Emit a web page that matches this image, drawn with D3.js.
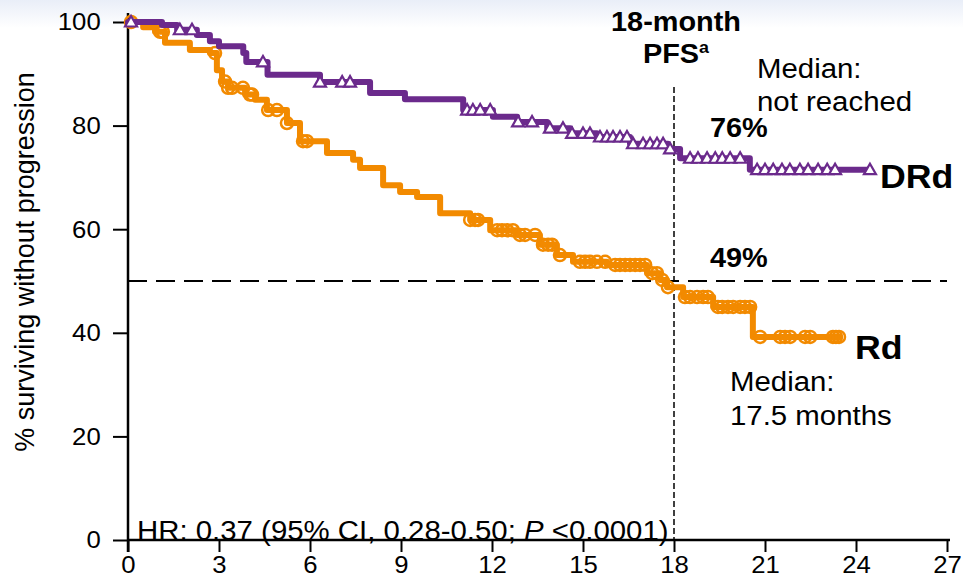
<!DOCTYPE html>
<html>
<head>
<meta charset="utf-8">
<script src="https://cdn.jsdelivr.net/npm/d3@7"></script>
<style>
  html, body { margin: 0; padding: 0; background: #fff; }
  svg { display: block; font-family: "Liberation Sans", Arial, sans-serif; }
</style>
</head>
<body>
<script>
// DRd arm: step times (months) and % progression-free
var drdTime = [0, 1.12, 1.62, 2.27, 2.7, 3.0, 3.8, 3.9, 4.6, 6.33, 7.98, 9.13, 11.05, 12.03, 12.83, 13.82, 14.58, 15.46, 16.55, 17.8, 18.2, 20.5];
var drdSurv = [100, 99.4, 98.5, 97.5, 96.3, 95.3, 94, 92.3, 89.8, 88.4, 86.3, 85.1, 83.0, 81.7, 80.7, 79.5, 78.5, 77.8, 76.5, 75.5, 73.7, 71.5];
var drdEnd = 24.46;
var drdCensor = [0.1, 1.71, 2.11, 4.45, 6.33, 7.06, 7.32, 11.18, 11.37, 11.61, 11.94, 12.86, 13.32, 13.91, 14.34, 14.64,
  15.0, 15.23, 15.56, 15.79, 15.99, 16.22, 16.45, 16.65, 16.98, 17.21, 17.44, 17.64, 17.87, 18.53, 18.79, 19.09, 19.36,
  19.59, 19.85, 20.18, 20.74, 21.0, 21.27, 21.56, 21.82, 22.15, 22.42, 22.75, 23.05, 23.31, 24.46];

// Rd arm
var rdTime = [0, 0.5, 0.89, 1.22, 2.04, 2.7, 2.93, 3.1, 3.3, 3.86, 4.19, 4.58, 5.24, 5.67, 6.56, 7.42, 7.65, 8.41, 8.97, 9.53,
  10.29, 11.28, 11.94, 12.83, 13.58, 14.14, 14.67, 15.79, 17.11, 17.54, 17.77, 18.3, 19.29, 20.6];
var rdSurv = [100, 99, 98.1, 96, 94.6, 94, 90.7, 88.5, 87.3, 86, 85, 83, 80.5, 77, 74.7, 73.4, 71.8, 68.5, 67.2, 66.2,
  63.1, 61.8, 59.8, 58.9, 57, 55, 53.7, 53.1, 51.5, 50.2, 48.8, 46.9, 45.0, 39.2];
var rdEnd = 23.47;
var rdCensor = [0.1, 1.06, 1.15, 2.87, 3.2, 3.3, 3.43, 3.79, 4.02, 4.09, 4.62, 4.91, 5.24, 5.77, 5.9, 11.28, 11.44, 11.54,
  12.17, 12.33, 12.5, 12.69, 12.92, 13.09, 13.42, 13.68, 13.85, 13.98, 14.24, 14.9, 15.07, 15.23, 15.46, 15.73, 16.06,
  16.22, 16.39, 16.55, 16.72, 16.88, 17.05, 17.28, 17.44, 17.61, 17.8, 18.36, 18.53, 18.76, 18.96, 19.12, 19.45, 19.59,
  19.78, 19.95, 20.18, 20.34, 20.51, 20.84, 21.5, 21.66, 21.83, 22.32, 22.49, 23.24, 23.34, 23.44];

var xTicks = [0, 3, 6, 9, 12, 15, 18, 21, 24, 27];
var yTicks = [0, 20, 40, 60, 80, 100];

var purple = "#6b2a8c", orange = "#f28a00";
var SX = 1.05; // source picture is slightly stretched sideways

var W = 963, H = 583;
var svg = d3.select("body").append("svg").attr("width", W).attr("height", H);

// faint slide gradient at top
var grad = svg.append("defs").append("linearGradient").attr("id", "topg")
  .attr("x1", 0).attr("y1", 0).attr("x2", 0).attr("y2", 1);
grad.append("stop").attr("offset", "0%").attr("stop-color", "#e9eef8");
grad.append("stop").attr("offset", "100%").attr("stop-color", "#ffffff");
svg.append("rect").attr("width", W).attr("height", 28).attr("fill", "url(#topg)");

var x = d3.scaleLinear().domain([0, 27]).range([128, 947]);
var y = d3.scaleLinear().domain([0, 100]).range([540, 22]);

// reference lines
svg.append("line").attr("x1", x(0)).attr("x2", x(27)).attr("y1", y(50)).attr("y2", y(50))
  .attr("stroke", "#000").attr("stroke-width", 2).attr("stroke-dasharray", "19,9");
svg.append("line").attr("x1", x(18)).attr("x2", x(18)).attr("y1", 87).attr("y2", y(0))
  .attr("stroke", "#000").attr("stroke-width", 1.5).attr("stroke-dasharray", "6,3");

// axes
var xAxis = svg.append("g").attr("transform", "translate(0," + y(0) + ")")
  .call(d3.axisBottom(x).tickValues(xTicks).tickSize(12).tickPadding(4).tickSizeOuter(0));
var yAxis = svg.append("g").attr("transform", "translate(" + x(0) + ",0)")
  .call(d3.axisLeft(y).tickValues(yTicks).tickSize(15).tickPadding(11).tickSizeOuter(0));
[xAxis, yAxis].forEach(function(a) {
  a.select(".domain").remove();
  a.selectAll(".tick line").attr("stroke", "#000").attr("stroke-width", 2);
  a.selectAll("text").attr("fill", "#000").style("font-size", "24.5px")
    .style("font-family", "'Liberation Sans', Arial, sans-serif")
    .attr("transform", "scale(" + SX + ",1)");
});
svg.append("line").attr("x1", x(0)).attr("x2", 950).attr("y1", y(0)).attr("y2", y(0))
  .attr("stroke", "#000").attr("stroke-width", 2.5);
svg.append("line").attr("x1", x(0)).attr("x2", x(0)).attr("y1", 13).attr("y2", y(0) + 12)
  .attr("stroke", "#000").attr("stroke-width", 2.5);

function stepAt(times, surv, t) {
  var i = d3.bisectRight(times, t) - 1;
  return surv[Math.max(0, i)];
}

function drawArm(times, surv, end, censor, color, shape) {
  var pts = times.map(function(t, i) { return [t, surv[i]]; });
  pts.push([end, surv[surv.length - 1]]);
  var line = d3.line().x(function(d) { return x(d[0]); }).y(function(d) { return y(d[1]); })
    .curve(d3.curveStepAfter);
  svg.append("path").attr("d", line(pts)).attr("fill", "none").attr("stroke", color)
    .attr("stroke-width", 6).attr("stroke-linejoin", "round").attr("stroke-linecap", "round");
  var g = svg.append("g");
  censor.forEach(function(t) {
    var cx = x(t), cy = y(stepAt(times, surv, t));
    if (shape === "tri") {
      g.append("path").attr("d", "M-6,4.5L6,4.5L0,-6Z").attr("transform", "translate(" + cx + "," + cy + ")")
        .attr("fill", "#fff").attr("stroke", color).attr("stroke-width", 2.2);
    } else {
      g.append("circle").attr("cx", cx).attr("cy", cy).attr("r", 6)
        .attr("fill", "none").attr("stroke", color).attr("stroke-width", 2.5);
    }
  });
}

drawArm(rdTime, rdSurv, rdEnd, rdCensor, orange, "circ");
drawArm(drdTime, drdSurv, drdEnd, drdCensor, purple, "tri");

function label(px, py, s, size, weight, anchor) {
  return svg.append("text").attr("transform", "translate(" + px + "," + py + ") scale(" + SX + ",1)")
    .attr("text-anchor", anchor || "start").style("font-size", size + "px")
    .style("font-weight", weight || "normal").attr("fill", "#000").text(s);
}

label(676, 31, "18-month", 27.5, "bold", "middle");
var pfs = label(676, 63, "PFS", 27.5, "bold", "middle");
pfs.append("tspan").attr("dy", -10).style("font-size", "17px").text("a");
label(757, 78, "Median:", 28);
label(757, 111, "not reached", 28);
label(710, 137, "76%", 27.5, "bold");
label(880, 188, "DRd", 34, "bold");
label(710, 267, "49%", 27.5, "bold");
label(855, 359, "Rd", 34, "bold");
label(730, 391, "Median:", 28);
label(730, 425, "17.5 months", 28);

var hr = label(137, 540, "HR: 0.37 (95% CI, 0.28-0.50; ", 28);
hr.append("tspan").style("font-style", "italic").text("P");
hr.append("tspan").text(" <0.0001)");

svg.append("text").attr("transform", "translate(34,262) rotate(-90)").attr("text-anchor", "middle")
  .style("font-size", "27px").attr("fill", "#000").text("% surviving without progression");
</script>
</body>
</html>
